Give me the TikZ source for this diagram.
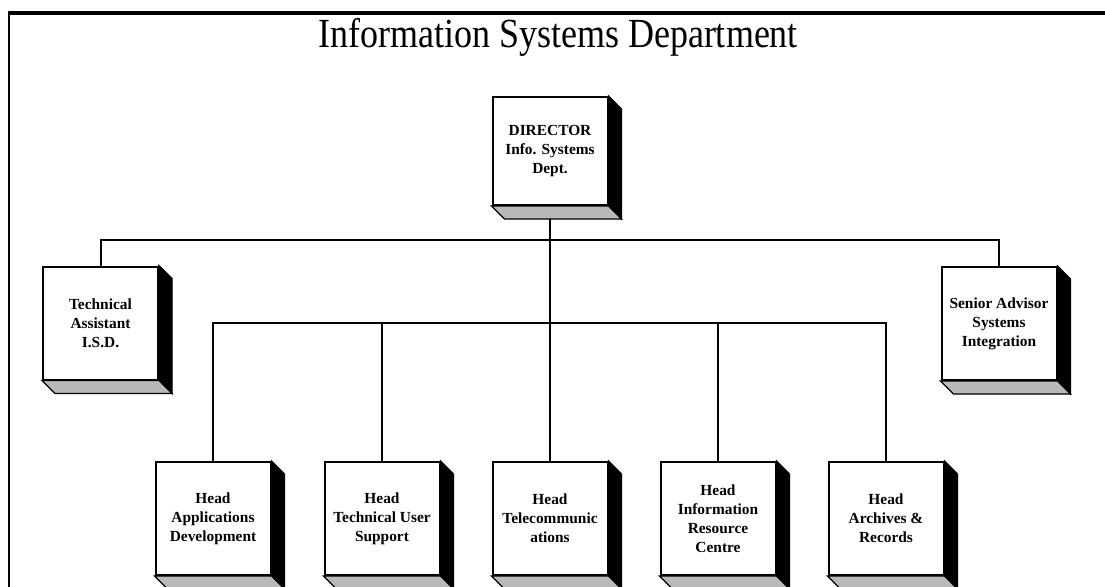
\documentclass[tikz,border=0pt]{standalone}
\usepackage{fontspec}
\setmainfont{Liberation Serif}

\tikzset{
  unit/.style={draw,line width=1pt,fill=white,minimum width=57.5pt,minimum height=56.5pt,
    inner sep=1pt,align=center,font=\fontsize{7.7}{9.5}\selectfont\bfseries},
  link/.style={line width=1pt},
  sideface/.style={line width=0.6pt,fill=black},
  baseface/.style={line width=0.6pt,fill=gray!55}
}

\begin{document}
\begin{tikzpicture}[x=0.5pt,y=-0.5pt]
\useasboundingbox (0,0) rectangle (1105,586);
\draw[line width=1.2pt] (9,600) -- (9,13);
\draw[line width=1.7pt] (8.4,13) -- (1120,13);
\node (title) at (558,37) {\fontsize{18}{20}\selectfont\scalebox{1}[1.15]{Information Systems Department}};

\node[unit,minimum height=54pt] (dir) at (550,151) {DIRECTOR\\Info. Systems\\Dept.};
\node[unit] (ta) at (100.5,323) {Technical\\Assistant\\I.S.D.};
\node[unit] (sa) at (999,323.5) {Senior Advisor\\Systems\\Integration};
\node[unit] (app) at (213,518.5) {Head\\Applications\\Development};
\node[unit] (tus) at (382,518.5) {Head\\Technical User\\Support};
\node[unit] (tel) at (550,518.5) {Head\\Telecommunic\\ations};
\node[unit] (irc) at (718,518.5) {Head\\Information\\Resource\\Centre};
\node[unit] (arc) at (886,518.5) {Head\\Archives \&\\Records};

\coordinate (topbus) at (550,240);
\coordinate (lowbus) at (550,323);
\draw[link] (dir.south) -- (tel.north);
\draw[link] (ta.north) |- (topbus) -| (sa.north);
\draw[link] (app.north) |- (lowbus) -| (arc.north);
\draw[link] (tus.north) -- (tus.north |- lowbus);
\draw[link] (irc.north) -- (irc.north |- lowbus);

% depth of the boxes
\foreach \n in {dir,ta,sa,app,tus,tel,irc,arc} {
  \filldraw[sideface] (\n.north east) -- ([shift={(13,13)}]\n.north east)
    -- ([shift={(13,13)}]\n.south east) -- (\n.south east) -- cycle;
  \filldraw[baseface] (\n.south west) -- ([shift={(13,13)}]\n.south west)
    -- ([shift={(13,13)}]\n.south east) -- (\n.south east) -- cycle;
}
\end{tikzpicture}
\end{document}
